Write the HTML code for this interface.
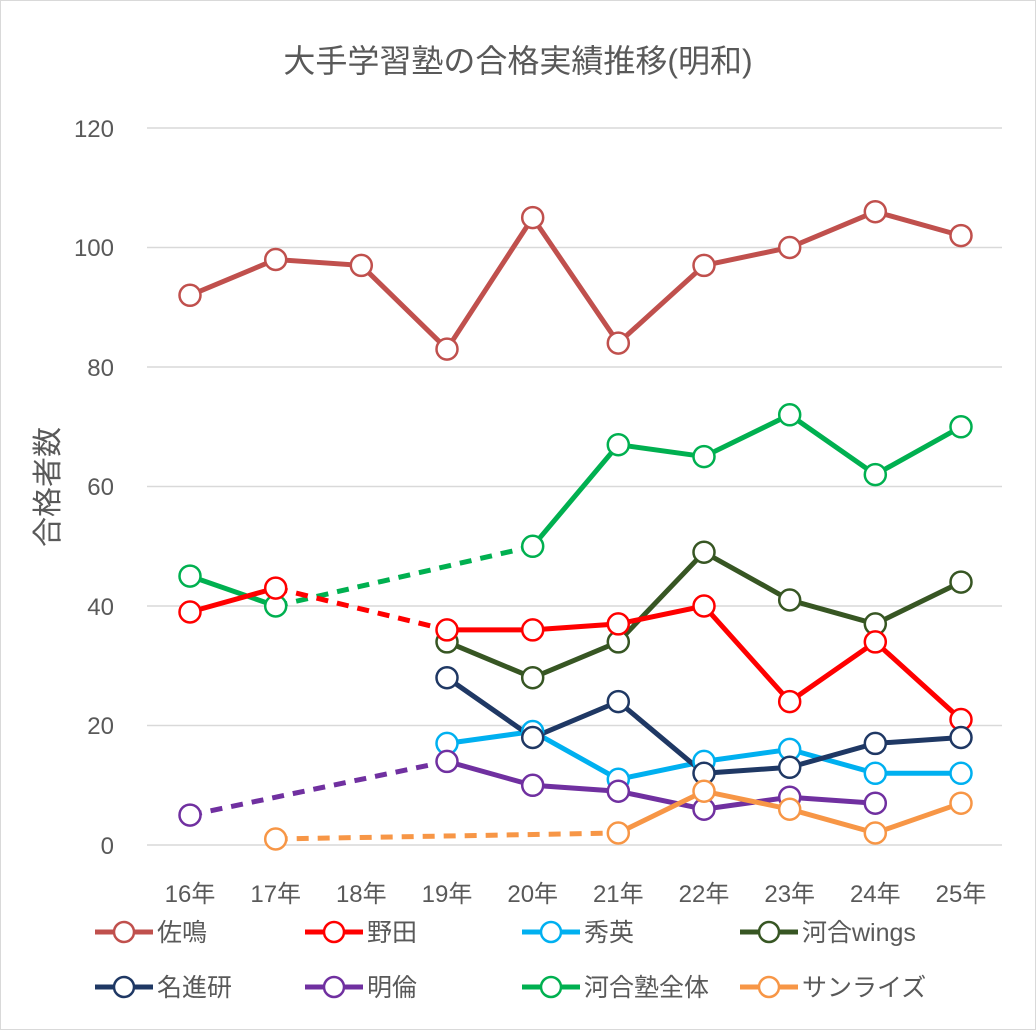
<!DOCTYPE html>
<html><head><meta charset="utf-8"><style>
body{margin:0;background:#fff}
svg text{font-family:"Liberation Sans","Noto Sans CJK JP",sans-serif;fill:#595959}
</style></head><body>
<svg width="1036" height="1030" xmlns="http://www.w3.org/2000/svg">
<rect x="0.5" y="0.5" width="1035" height="1029" fill="#fff" stroke="#d9d9d9"/>
<text x="518" y="72" font-size="32" text-anchor="middle">大手学習塾の合格実績推移(明和)</text>
<text transform="translate(58,487) rotate(-90)" font-size="30" text-anchor="middle">合格者数</text>
<g stroke="#d9d9d9" stroke-width="1.5">
<line x1="147" x2="1002" y1="128" y2="128"/><line x1="147" x2="1002" y1="247.5" y2="247.5"/>
<line x1="147" x2="1002" y1="367" y2="367"/><line x1="147" x2="1002" y1="486.5" y2="486.5"/>
<line x1="147" x2="1002" y1="606" y2="606"/><line x1="147" x2="1002" y1="725.5" y2="725.5"/>
<line x1="147" x2="1002" y1="845" y2="845"/></g>
<g font-size="24" text-anchor="end">
<text x="114" y="137">120</text><text x="114" y="256">100</text><text x="114" y="376">80</text>
<text x="114" y="495">60</text><text x="114" y="615">40</text><text x="114" y="734">20</text><text x="114" y="854">0</text></g>
<g font-size="24" text-anchor="middle">
<text x="190" y="902">16年</text><text x="275.7" y="902">17年</text><text x="361.3" y="902">18年</text>
<text x="447" y="902">19年</text><text x="532.7" y="902">20年</text><text x="618.3" y="902">21年</text>
<text x="704" y="902">22年</text><text x="789.7" y="902">23年</text><text x="875.3" y="902">24年</text><text x="961" y="902">25年</text></g>

<g fill="none" stroke-width="5">
<!-- 河合塾全体 -->
<polyline stroke="#00B050" points="190,576.1 275.7,606"/>
<polyline stroke="#00B050" stroke-dasharray="12,9" points="275.7,606 532.7,546.3"/>
<polyline stroke="#00B050" points="532.7,546.3 618.3,444.7 704,456.6 789.7,414.8 875.3,474.6 961,426.8"/>
<!-- wings -->
<polyline stroke="#375623" points="447,641.9 532.7,677.7 618.3,641.9 704,552.2 789.7,600 875.3,623.9 961,582.1"/>
<!-- 野田 -->
<polyline stroke="#FF0000" points="190,612 275.7,588.1"/>
<polyline stroke="#FF0000" stroke-dasharray="12,9" points="275.7,588.1 447,629.9"/>
<polyline stroke="#FF0000" points="447,629.9 532.7,629.9 618.3,623.9 704,606 789.7,701.6 875.3,641.9 961,719.5"/>
<!-- 秀英 -->
<polyline stroke="#00B0F0" points="447,743.4 532.7,731.5 618.3,779.3 704,761.4 789.7,749.4 875.3,773.3 961,773.3"/>
<!-- 名進研 -->
<polyline stroke="#1F3864" points="447,677.7 532.7,737.5 618.3,701.6 704,773.3 789.7,767.3 875.3,743.4 961,737.5"/>
<!-- 明倫 -->
<polyline stroke="#7030A0" stroke-dasharray="12,9" points="190,815.1 447,761.4"/>
<polyline stroke="#7030A0" points="447,761.4 532.7,785.3 618.3,791.2 704,809.2 789.7,797.2 875.3,803.2"/>
<!-- サンライズ -->
<polyline stroke="#F79646" stroke-dasharray="12,9" points="275.7,839 618.3,833"/>
<polyline stroke="#F79646" points="618.3,833 704,791.2 789.7,809.2 875.3,833 961,803.2"/>
<!-- 佐鳴 -->
<polyline stroke="#C0504D" points="190,295.3 275.7,259.5 361.3,265.4 447,349.1 532.7,217.6 618.3,343.1 704,265.4 789.7,247.5 875.3,211.7 961,235.6"/>
</g>

<g fill="#fff" stroke-width="2.5">
<g stroke="#00B050"><circle cx="190" cy="576.1" r="10.5"/><circle cx="275.7" cy="606" r="10.5"/><circle cx="532.7" cy="546.3" r="10.5"/><circle cx="618.3" cy="444.7" r="10.5"/><circle cx="704" cy="456.6" r="10.5"/><circle cx="789.7" cy="414.8" r="10.5"/><circle cx="875.3" cy="474.6" r="10.5"/><circle cx="961" cy="426.8" r="10.5"/></g>
<g stroke="#375623"><circle cx="447" cy="641.9" r="10.5"/><circle cx="532.7" cy="677.7" r="10.5"/><circle cx="618.3" cy="641.9" r="10.5"/><circle cx="704" cy="552.2" r="10.5"/><circle cx="789.7" cy="600" r="10.5"/><circle cx="875.3" cy="623.9" r="10.5"/><circle cx="961" cy="582.1" r="10.5"/></g>
<g stroke="#FF0000"><circle cx="190" cy="612" r="10.5"/><circle cx="275.7" cy="588.1" r="10.5"/><circle cx="447" cy="629.9" r="10.5"/><circle cx="532.7" cy="629.9" r="10.5"/><circle cx="618.3" cy="623.9" r="10.5"/><circle cx="704" cy="606" r="10.5"/><circle cx="789.7" cy="701.6" r="10.5"/><circle cx="875.3" cy="641.9" r="10.5"/><circle cx="961" cy="719.5" r="10.5"/></g>
<g stroke="#00B0F0"><circle cx="447" cy="743.4" r="10.5"/><circle cx="532.7" cy="731.5" r="10.5"/><circle cx="618.3" cy="779.3" r="10.5"/><circle cx="704" cy="761.4" r="10.5"/><circle cx="789.7" cy="749.4" r="10.5"/><circle cx="875.3" cy="773.3" r="10.5"/><circle cx="961" cy="773.3" r="10.5"/></g>
<g stroke="#1F3864"><circle cx="447" cy="677.7" r="10.5"/><circle cx="532.7" cy="737.5" r="10.5"/><circle cx="618.3" cy="701.6" r="10.5"/><circle cx="704" cy="773.3" r="10.5"/><circle cx="789.7" cy="767.3" r="10.5"/><circle cx="875.3" cy="743.4" r="10.5"/><circle cx="961" cy="737.5" r="10.5"/></g>
<g stroke="#7030A0"><circle cx="190" cy="815.1" r="10.5"/><circle cx="447" cy="761.4" r="10.5"/><circle cx="532.7" cy="785.3" r="10.5"/><circle cx="618.3" cy="791.2" r="10.5"/><circle cx="704" cy="809.2" r="10.5"/><circle cx="789.7" cy="797.2" r="10.5"/><circle cx="875.3" cy="803.2" r="10.5"/></g>
<g stroke="#F79646"><circle cx="275.7" cy="839" r="10.5"/><circle cx="618.3" cy="833" r="10.5"/><circle cx="704" cy="791.2" r="10.5"/><circle cx="789.7" cy="809.2" r="10.5"/><circle cx="875.3" cy="833" r="10.5"/><circle cx="961" cy="803.2" r="10.5"/></g>
<g stroke="#C0504D"><circle cx="190" cy="295.3" r="10.5"/><circle cx="275.7" cy="259.5" r="10.5"/><circle cx="361.3" cy="265.4" r="10.5"/><circle cx="447" cy="349.1" r="10.5"/><circle cx="532.7" cy="217.6" r="10.5"/><circle cx="618.3" cy="343.1" r="10.5"/><circle cx="704" cy="265.4" r="10.5"/><circle cx="789.7" cy="247.5" r="10.5"/><circle cx="875.3" cy="211.7" r="10.5"/><circle cx="961" cy="235.6" r="10.5"/></g>
</g>

<g font-size="25">
<line x1="95" x2="153" y1="932" y2="932" stroke="#C0504D" stroke-width="5"/><circle cx="124" cy="932" r="10" fill="#fff" stroke="#C0504D" stroke-width="2.5"/><text x="157" y="941">佐鳴</text>
<line x1="305" x2="363" y1="932" y2="932" stroke="#FF0000" stroke-width="5"/><circle cx="334" cy="932" r="10" fill="#fff" stroke="#FF0000" stroke-width="2.5"/><text x="367" y="941">野田</text>
<line x1="522" x2="580" y1="932" y2="932" stroke="#00B0F0" stroke-width="5"/><circle cx="551" cy="932" r="10" fill="#fff" stroke="#00B0F0" stroke-width="2.5"/><text x="584" y="941">秀英</text>
<line x1="740" x2="798" y1="932" y2="932" stroke="#375623" stroke-width="5"/><circle cx="769" cy="932" r="10" fill="#fff" stroke="#375623" stroke-width="2.5"/><text x="802" y="941">河合wings</text>
<line x1="95" x2="153" y1="987" y2="987" stroke="#1F3864" stroke-width="5"/><circle cx="124" cy="987" r="10" fill="#fff" stroke="#1F3864" stroke-width="2.5"/><text x="157" y="996">名進研</text>
<line x1="305" x2="363" y1="987" y2="987" stroke="#7030A0" stroke-width="5"/><circle cx="334" cy="987" r="10" fill="#fff" stroke="#7030A0" stroke-width="2.5"/><text x="367" y="996">明倫</text>
<line x1="522" x2="580" y1="987" y2="987" stroke="#00B050" stroke-width="5"/><circle cx="551" cy="987" r="10" fill="#fff" stroke="#00B050" stroke-width="2.5"/><text x="584" y="996">河合塾全体</text>
<line x1="740" x2="798" y1="987" y2="987" stroke="#F79646" stroke-width="5"/><circle cx="769" cy="987" r="10" fill="#fff" stroke="#F79646" stroke-width="2.5"/><text x="802" y="996">サンライズ</text>
</g>
</svg></body></html>
